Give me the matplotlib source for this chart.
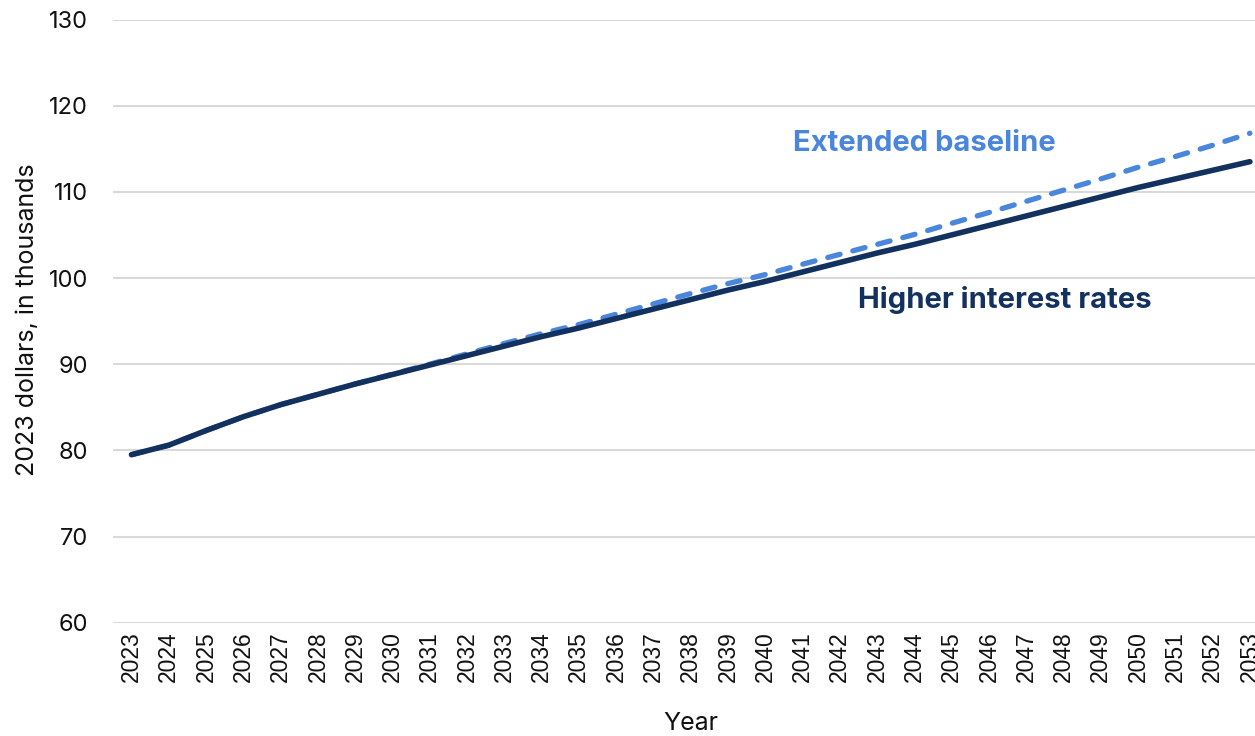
import matplotlib
matplotlib.use("Agg")
import matplotlib.pyplot as plt

# Average income per person, 2023 dollars (thousands)
years = list(range(2023, 2054))
higher_rates = [79.5, 80.6, 82.3, 83.9, 85.3, 86.5, 87.7, 88.8, 89.9, 91.0,
                92.1, 93.2, 94.2, 95.3, 96.4, 97.5, 98.6, 99.6, 100.7, 101.8,
                102.9, 103.9, 105.0, 106.1, 107.2, 108.3, 109.4, 110.5, 111.5,
                112.5, 113.5]
extended_baseline = [79.5, 80.6, 82.3, 83.9, 85.3, 86.5, 87.7, 88.85, 90.0, 91.2,
                     92.4, 93.55, 94.6, 95.8, 97.0, 98.2, 99.35, 100.4, 101.6,
                     102.75, 103.9, 105.05, 106.35, 107.6, 108.9, 110.2, 111.5,
                     112.85, 114.1, 115.4, 116.8]
y_ticks = [60, 70, 80, 90, 100, 110, 120, 130]

NAVY = "#13315f"
BLUE = "#4a86dc"
GRID = "#d9d9d9"

W, H = 1255, 736
STEP = 37.28          # pixels per year
LEFT = 131.5 - STEP / 2
fig = plt.figure(figsize=(W / 100, H / 100), dpi=100)
ax = fig.add_axes([LEFT / W, (H - 622.7) / H, 31 * STEP / W, (622.7 - 19.5) / H])

ax.plot(years, extended_baseline, color=BLUE, lw=3.8, ls=(0, (2.4, 2.5)),
        dash_capstyle="round", solid_capstyle="round", zorder=3)
ax.plot(years, higher_rates, color=NAVY, lw=4.0, solid_capstyle="round", zorder=4)

ax.set_ylim(60, 130)
ax.set_xlim(2022.5, 2053.5)
ax.set_yticks(y_ticks)
ax.set_xticks(years)
ax.grid(axis="y", color=GRID, lw=1.5)
ax.set_axisbelow(True)
for s in ax.spines.values():
    s.set_visible(False)
ax.tick_params(axis="both", length=0)
ax.tick_params(axis="y", pad=18)
ax.tick_params(axis="x", pad=6)

for lab in ax.get_yticklabels():
    lab.set_fontfamily("Inter")
    lab.set_fontsize(17)
    lab.set_color("#111111")
ax.set_xticklabels([str(y) for y in years], rotation=90, fontsize=16.5,
                   fontfamily="Liberation Sans", color="#111111")

fig.text(28 / W, 1 - 320 / H, "2023 dollars, in thousands", rotation=90,
         ha="center", va="center", fontsize=18, fontfamily="Inter", color="#111111")
fig.text(691 / W, 1 - 724 / H, "Year", ha="center", va="center",
         fontsize=18, fontfamily="Inter", color="#111111")

ax.text(2040.74, 115.6, "Extended baseline", ha="left", va="center",
        fontsize=21, fontweight="bold", fontfamily="Inter", color=BLUE)
ax.text(2042.49, 97.4, "Higher interest rates", ha="left", va="center",
        fontsize=21, fontweight="bold", fontfamily="Inter", color=NAVY)

fig.savefig("out.png", dpi=100)
